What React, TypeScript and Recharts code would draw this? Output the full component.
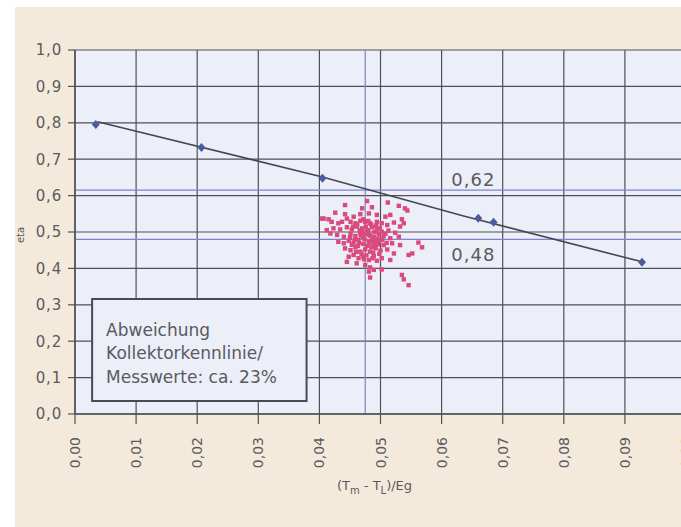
import {
	ComposedChart,
	Scatter,
	XAxis,
	YAxis,
	CartesianGrid,
	ReferenceLine,
	ReferenceArea,
	ReferenceDot,
} from 'recharts';

// Achsen
const xTicks = [0, 0.01, 0.02, 0.03, 0.04, 0.05, 0.06, 0.07, 0.08, 0.09, 0.1];
const yTicks = [0, 0.1, 0.2, 0.3, 0.4, 0.5, 0.6, 0.7, 0.8, 0.9, 1.0];

// Kollektorkennlinie
const lineX = [0.0037, 0.0405, 0.0636, 0.0928];
const lineY = [0.803, 0.651, 0.544, 0.418];

// Rauten auf der Kennlinie
const diamondX = [0.0034, 0.0207, 0.0405, 0.066, 0.0685, 0.0928];
const diamondY = [0.795, 0.732, 0.648, 0.538, 0.527, 0.417];

// Messwerte [x, eta]
const messwerte: [number, number][] = [
	[0.0442, 0.574], [0.0478, 0.585], [0.0512, 0.581], [0.053, 0.572], [0.054, 0.565],
	[0.0544, 0.559], [0.047, 0.565], [0.0486, 0.568],
	[0.0426, 0.553], [0.0407, 0.537], [0.0415, 0.535], [0.0442, 0.549], [0.0445, 0.537],
	[0.0456, 0.542], [0.0467, 0.549], [0.0481, 0.551], [0.0494, 0.547], [0.0508, 0.542],
	[0.0516, 0.547], [0.0535, 0.535], [0.0538, 0.524], [0.0404, 0.537],
	[0.042, 0.528], [0.0431, 0.524], [0.0437, 0.528], [0.0451, 0.528], [0.0459, 0.524],
	[0.0467, 0.531], [0.0475, 0.528], [0.0483, 0.524], [0.0494, 0.528], [0.0502, 0.524],
	[0.0511, 0.519], [0.0522, 0.526], [0.0532, 0.515],
	[0.0412, 0.505], [0.0423, 0.51], [0.0434, 0.507], [0.0445, 0.513], [0.0453, 0.507],
	[0.0461, 0.515], [0.047, 0.51], [0.0478, 0.505], [0.0486, 0.513], [0.0494, 0.507],
	[0.0502, 0.501], [0.0513, 0.504], [0.0524, 0.498],
	[0.0418, 0.496], [0.0429, 0.492], [0.044, 0.487], [0.0451, 0.494], [0.0459, 0.489],
	[0.0467, 0.496], [0.0472, 0.487], [0.0481, 0.492], [0.0489, 0.487], [0.0497, 0.494],
	[0.0505, 0.489], [0.0516, 0.483], [0.053, 0.487],
	[0.0431, 0.473], [0.044, 0.469], [0.0448, 0.476], [0.0456, 0.471], [0.0464, 0.478],
	[0.0472, 0.467], [0.0481, 0.473], [0.0489, 0.469], [0.0497, 0.476], [0.0505, 0.464],
	[0.0519, 0.469], [0.0532, 0.464], [0.0562, 0.471], [0.0568, 0.458],
	[0.0442, 0.455], [0.0451, 0.45], [0.0459, 0.458], [0.0467, 0.446], [0.0475, 0.452],
	[0.0483, 0.446], [0.0492, 0.455], [0.05, 0.449], [0.0511, 0.452], [0.0522, 0.441],
	[0.0552, 0.441], [0.0546, 0.437],
	[0.0448, 0.432], [0.0456, 0.437], [0.0464, 0.428], [0.0472, 0.432], [0.0481, 0.423],
	[0.0489, 0.434], [0.0494, 0.421], [0.0502, 0.428], [0.0516, 0.423], [0.0445, 0.418],
	[0.0461, 0.414], [0.0475, 0.409], [0.0483, 0.403], [0.0489, 0.396], [0.0502, 0.397],
	[0.0481, 0.391],
	[0.0483, 0.375], [0.0535, 0.382], [0.0538, 0.37], [0.0546, 0.354],
	[0.0462, 0.52], [0.047, 0.5], [0.0476, 0.515], [0.048, 0.497], [0.0485, 0.52],
	[0.049, 0.5], [0.0474, 0.48], [0.0478, 0.462], [0.0486, 0.478], [0.0491, 0.46],
	[0.0483, 0.49], [0.0466, 0.505], [0.0458, 0.48], [0.0463, 0.462], [0.0469, 0.44],
	[0.0477, 0.436], [0.0485, 0.458], [0.0495, 0.482], [0.0499, 0.51], [0.0493, 0.517],
	[0.048, 0.53], [0.0472, 0.535], [0.0455, 0.515], [0.045, 0.485], [0.0453, 0.465],
	[0.046, 0.445], [0.0488, 0.443], [0.0496, 0.466], [0.0503, 0.478], [0.0508, 0.495],
	[0.051, 0.47], [0.0498, 0.44], [0.0473, 0.425], [0.0487, 0.428], [0.0468, 0.49],
	[0.048, 0.505], [0.0475, 0.495], [0.0492, 0.475], [0.0465, 0.47], [0.0482, 0.47],
];

// Hilfslinien
const refEtaHigh = 0.615;
const refEtaLow = 0.48;
const refX = 0.0475;
const refLabels = [
	{ x: 0.0652, y: 0.643, text: '0,62' },
	{ x: 0.0652, y: 0.437, text: '0,48' },
];

// Textkasten
const boxX = [0.0028, 0.0379];
const boxY = [0.036, 0.316];
const boxLines = ['Abweichung', 'Kollektorkennlinie/', 'Messwerte: ca. 23%'];

const lineData = lineX.map((x, i) => ({ x, y: lineY[i] }));
const diamondData = diamondX.map((x, i) => ({ x, y: diamondY[i] }));
const messData = messwerte.map(([x, y]) => ({ x, y }));

const FONT = 'DejaVu Sans';
const TEXT = '#5a5a5e';
const GRID = '#4f505a';
const BLUE = '#7a86c8';

const fmt = (v: number, d: number) => v.toFixed(d).replace('.', ',');

const XTick = ({ x, y, payload }: any) => {
	const ty = y + 11;
	return (
		<text
			x={x}
			y={ty}
			transform={`rotate(-90 ${x} ${ty})`}
			textAnchor="end"
			dy="0.36em"
			fontSize={14}
			fontFamily={FONT}
			fill={TEXT}
		>
			{fmt(payload.value, 2)}
		</text>
	);
};

const YTick = ({ x, y, payload }: any) => (
	<text
		x={x}
		y={y}
		textAnchor="end"
		dy="0.36em"
		fontSize={15}
		letterSpacing={0.8}
		fontFamily={FONT}
		fill={TEXT}
	>
		{fmt(payload.value, 1)}
	</text>
);

const XLabel = ({ viewBox }: any) => (
	<text
		x={viewBox.x + viewBox.width / 2 - 6}
		y={viewBox.y + 76}
		textAnchor="middle"
		fontSize={13}
		fontFamily={FONT}
		fill={TEXT}
	>
		(T<tspan dy={4} fontSize={10}>m</tspan>
		<tspan dy={-4}> - T</tspan>
		<tspan dy={4} fontSize={10}>L</tspan>
		<tspan dy={-4}>)/Eg</tspan>
	</text>
);

const YLabel = ({ viewBox }: any) => {
	const cx = viewBox.x + 20;
	const cy = viewBox.y + viewBox.height / 2 + 3;
	return (
		<text
			x={cx}
			y={cy}
			transform={`rotate(-90 ${cx} ${cy})`}
			textAnchor="middle"
			dy="0.35em"
			fontSize={10}
			fontFamily={FONT}
			fill={TEXT}
		>
			eta
		</text>
	);
};

const BoxText = ({ viewBox }: any) => (
	<text x={viewBox.x + 14} y={viewBox.y + 37} fontSize={17} fontFamily={FONT} fill={TEXT}>
		{boxLines.map((t, i) => (
			<tspan key={t} x={viewBox.x + 14} dy={i === 0 ? 0 : 23.5}>
				{t}
			</tspan>
		))}
	</text>
);

const Square = (p: any) => (
	<rect x={p.cx - 2.2} y={p.cy - 2.2} width={4.4} height={4.4} fill="#da4a7c" />
);

const Diamond = (p: any) => (
	<polygon
		points={`${p.cx},${p.cy - 4.5} ${p.cx + 4},${p.cy} ${p.cx},${p.cy + 4.5} ${p.cx - 4},${p.cy}`}
		fill="#4a5c9e"
	/>
);

export default function App() {
	return (
		<div
			style={{
				position: 'absolute',
				left: 0,
				top: 0,
				width: 681,
				height: 527,
				overflow: 'hidden',
				background: '#ffffff',
			}}
		>
			<div
				style={{
					position: 'absolute',
					left: 15,
					top: 7,
					width: 666,
					height: 520,
					background: '#f3eadb',
				}}
			/>
			<div style={{ position: 'absolute', left: 0, top: 0 }}>
				<ComposedChart
					width={700}
					height={527}
					margin={{ top: 50, right: 14, bottom: 0, left: 0 }}
				>
					<CartesianGrid stroke={GRID} strokeWidth={1.2} fill="#eceef8" fillOpacity={1} />
					<XAxis
						type="number"
						dataKey="x"
						domain={[0, 0.1]}
						ticks={xTicks}
						interval={0}
						height={113}
						tickSize={10}
						tick={<XTick />}
						axisLine={{ stroke: GRID, strokeWidth: 1.5 }}
						tickLine={{ stroke: GRID, strokeWidth: 1.2 }}
						label={<XLabel />}
						allowDataOverflow
					/>
					<YAxis
						type="number"
						dataKey="y"
						domain={[0, 1]}
						ticks={yTicks}
						interval={0}
						width={75}
						tickSize={7}
						tickMargin={6}
						tick={<YTick />}
						axisLine={{ stroke: GRID, strokeWidth: 1.5 }}
						tickLine={{ stroke: GRID, strokeWidth: 1.2 }}
						label={<YLabel />}
					/>
					<ReferenceLine y={refEtaHigh} stroke={BLUE} strokeWidth={1.2} />
					<ReferenceLine y={refEtaLow} stroke={BLUE} strokeWidth={1.2} />
					<ReferenceLine x={refX} stroke={BLUE} strokeWidth={1.2} />
					<ReferenceArea
						x1={boxX[0]}
						x2={boxX[1]}
						y1={boxY[0]}
						y2={boxY[1]}
						fill="#eceef8"
						fillOpacity={1}
						stroke="#4a4a52"
						strokeWidth={2}
						label={(props: any) => <BoxText {...props} />}
					/>
					{refLabels.map((l) => (
						<ReferenceDot
							key={l.text}
							x={l.x}
							y={l.y}
							r={1}
							fill="none"
							stroke="none"
							label={{
								value: l.text,
								position: 'center',
								fontSize: 18,
								fontFamily: FONT,
								fill: TEXT,
								letterSpacing: 1,
							}}
						/>
					))}
					<Scatter
						data={messData}
						shape={Square}
						isAnimationActive={false}
					/>
					<Scatter
						data={lineData}
						line={{ stroke: '#454854', strokeWidth: 1.6 }}
						shape={() => <g />}
						isAnimationActive={false}
					/>
					<Scatter data={diamondData} shape={Diamond} isAnimationActive={false} />
				</ComposedChart>
			</div>
		</div>
	);
}
